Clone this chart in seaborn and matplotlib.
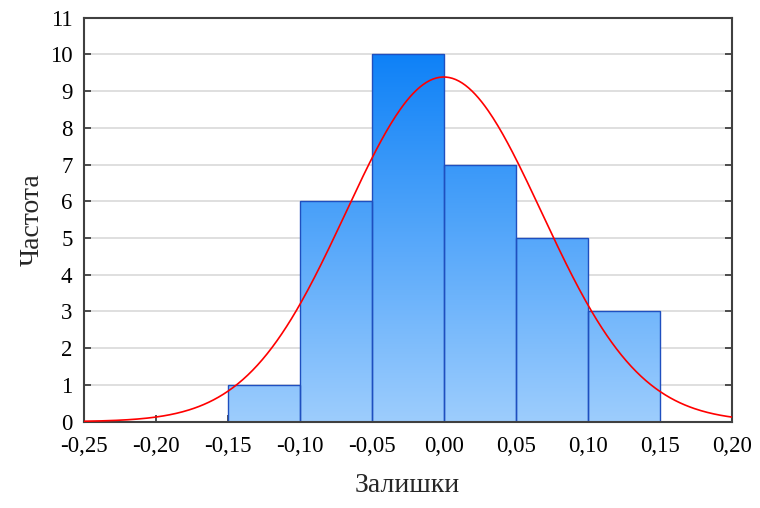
import numpy as np
import pandas as pd
import seaborn as sns
import matplotlib
matplotlib.use('Agg')
import matplotlib.pyplot as plt
from matplotlib.colors import LinearSegmentedColormap
from matplotlib.ticker import FuncFormatter

# histogram of residuals
bin_edges = [-0.15, -0.10, -0.05, 0.00, 0.05, 0.10, 0.15]
counts = [1, 6, 10, 7, 5, 3]
# fitted normal curve
mu = 0.0
sigma = 0.068
n_total = sum(counts)

bin_centers = [(a + b) / 2 for a, b in zip(bin_edges[:-1], bin_edges[1:])]
frame = pd.DataFrame({'resid': bin_centers, 'count': counts})

sns.set_style('white')
plt.rcParams['font.family'] = ['Liberation Serif', 'DejaVu Serif']

fig, ax = plt.subplots(figsize=(7.6, 5.08), dpi=100)
fig.subplots_adjust(left=0.11, right=0.963, top=0.965, bottom=0.17)

sns.histplot(data=frame, x='resid', weights='count', bins=bin_edges, stat='count',
             color='#4da6ff', edgecolor='#1f4fbf', linewidth=1.0, alpha=1, ax=ax, zorder=2)

ax.set_xlim(-0.25, 0.20)
ax.set_ylim(0, 11)

# vertical gradient fill clipped to each bar
cmap = LinearSegmentedColormap.from_list('grad', ['#9dcdfd', '#0a7ff7'])
grad = np.linspace(0, 1, 256).reshape(-1, 1)
for bar in ax.patches:
    img = ax.imshow(grad, cmap=cmap, aspect='auto', origin='lower',
                    extent=[-0.25, 0.20, 0, 10.3], zorder=2.1)
    img.set_clip_path(bar)
    bar.set_facecolor('none')
    bar.set_zorder(2.2)

xs = np.linspace(-0.25, 0.20, 400)
ys = n_total * 0.05 / (sigma * np.sqrt(2 * np.pi)) * np.exp(-0.5 * ((xs - mu) / sigma) ** 2)
ax.plot(xs, ys, color='red', linewidth=1.2, zorder=3)

ax.set_xticks(np.arange(-0.25, 0.2001, 0.05))
ax.set_yticks(range(0, 12))
ax.xaxis.set_major_formatter(FuncFormatter(lambda v, p: f'{v:.2f}'.replace('.', ',').replace('-0,00', '0,00')))
ax.yaxis.grid(True, color='#d9d9d9', linewidth=1.2, zorder=0)
ax.set_axisbelow(True)
ax.tick_params(direction='in', length=5, width=1.2, colors='#333333', labelcolor='black',
               labelsize=16.5, right=True, bottom=True, left=True)
ax.tick_params(axis='y', pad=8)
ax.tick_params(axis='x', pad=10)
for s in ax.spines.values():
    s.set_color('#404040')
    s.set_linewidth(1.5)

ax.set_xlabel('Залишки', fontsize=20, labelpad=12)
ax.set_ylabel('Частота', fontsize=20, labelpad=4)

plt.savefig('out.png', dpi=100)
